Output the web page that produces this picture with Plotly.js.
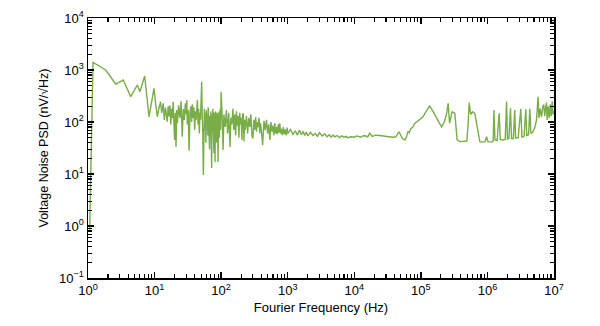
<!DOCTYPE html>
<html>
<head>
<meta charset="utf-8">
<script src="https://cdn.plot.ly/plotly-3.0.1.min.js"></script>
<style>html,body{margin:0;padding:0;background:#fff;}#chart{width:600px;height:326px;}</style>
</head>
<body>
<div id="chart"></div>
<script>
// Fourier frequency (Hz)
const freqLow = [1.06, 1.19, 1.5, 1.84, 2.61, 3.39, 4.38, 5.5, 6.04, 7.1, 8.24, 9.0, 9.8, 10.4, 11.0, 11.6, 12.3, 12.8, 13.5, 14.0, 14.6, 15.0, 15.5, 16.0, 16.5, 17.0, 17.5, 18.0, 18.5, 19.0, 19.5, 20.0, 20.5, 21.0, 21.5, 22.0, 23, 24, 25, 26, 27, 28, 29, 30, 30.5, 31, 32, 33, 34, 35, 36, 37, 38, 39, 40, 41, 42, 43, 44, 45, 46, 47, 48, 49, 50, 51, 52, 53, 54, 55, 56, 57, 58, 59, 60, 61, 62, 63, 64, 65, 66, 67, 68, 69, 70, 71, 72, 73, 74, 75, 76, 77, 78, 79, 80, 81, 82, 83, 84, 85, 86, 87, 88, 89, 90, 91, 92, 93, 94, 95, 96, 97, 98, 99];
const psdLow = [0.85, 1400, 1180, 1000, 538, 642, 307, 515, 383, 767, 126, 250, 444, 220, 126, 180, 246, 150, 229, 110, 190, 140, 101, 200, 130, 210, 90, 180, 120, 246, 110, 45, 150, 33, 170, 95, 210, 120, 250, 52, 180, 110, 230, 140, 265, 90, 170, 28, 150, 200, 100, 220, 120, 190, 70, 160, 110, 240, 265, 90, 180, 60, 150, 110, 200, 596, 130, 60, 9.6, 120, 180, 70, 150, 40, 170, 90, 140, 55, 190, 100, 150, 30, 130, 80, 160, 50, 13, 140, 90, 180, 60, 130, 25, 150, 100, 17, 160, 70, 140, 40, 120, 90, 150, 60, 17, 130, 80, 160, 50, 120, 100, 180, 70, 140];
const freqMid = [100, 104, 107, 110, 115, 120, 125, 130, 136, 140, 145, 150, 155, 160, 165, 170, 175, 180, 185, 190, 195, 200, 205, 210, 215, 220, 225, 230, 240, 250, 260, 270, 280, 290, 300, 310, 320, 330, 340, 350, 360, 370, 380, 390, 400, 420, 440, 460, 480, 500, 520, 540, 560, 580, 600, 620, 640, 660, 680, 700, 720, 740, 760, 780, 800, 830, 860, 890, 920, 950, 980, 1000, 1100, 1200, 1300, 1400, 1500, 1600, 1700, 1800, 1900, 2000, 2200, 2400, 2600, 2800, 3000, 3300, 3600, 3900, 4200, 4500, 4800, 5100, 5500, 6000, 6500, 7000, 7500, 8000, 9000, 10000];
const psdMid = [381, 110, 29, 140, 80, 170, 60, 150, 33, 120, 90, 180, 70, 140, 55, 160, 85, 130, 50, 150, 90, 120, 45, 140, 147, 42, 110, 70, 130, 60, 120, 80, 140, 55, 48, 110, 70, 125, 65, 100, 80, 120, 60, 95, 75, 36, 105, 70, 110, 60, 90, 45, 100, 65, 85, 55, 95, 60, 80, 58, 90, 62, 94, 60, 75, 56, 80, 58, 72, 55, 78, 60, 72, 58, 68, 56, 70, 57, 66, 55, 64, 54, 63, 55, 60, 53, 62, 54, 59, 52, 57, 51, 56, 52, 55, 50, 54, 51, 53, 50, 52, 51];
const freqHigh = [11000, 12500, 14000, 16000, 17000, 18500, 21000, 24000, 27000, 30000, 34000, 38000, 42000, 44000, 47200, 50000, 53000, 57500, 61000, 64000, 67000, 71000, 76000, 81000, 90000, 100000, 108000, 120000, 136000, 150000, 170000, 190000, 205000, 225000, 245000, 257000, 270000, 295000, 324000, 340000, 350000, 385000, 440000, 490000, 510000, 531000, 560000, 597000, 647000, 690000, 769000, 850000, 920000, 970000, 1020000, 1150000, 1220000, 1250000, 1300000, 1400000, 1470000, 1500000, 1560000, 1700000, 1850000, 1940000, 2000000, 2100000, 2220000, 2300000, 2450000, 2570000, 2650000, 2900000, 3170000, 3300000, 3550000, 3770000, 3900000, 4150000, 4330000, 4500000, 4800000, 5100000, 5460000, 5770000, 5950000, 6200000, 6500000, 6800000, 7030000, 7250000, 7500000, 7710000, 7900000, 8200000, 8500000, 8800000, 9100000, 9400000, 9700000, 10000000];
const psdHigh = [54, 51, 55, 52, 61, 53, 56, 55, 54, 53, 52, 51, 52, 58, 65, 55, 48, 45, 52, 66, 62, 75, 80, 94, 105, 120, 126, 160, 203, 165, 120, 95, 81, 100, 150, 229, 95, 157, 147, 70, 46, 42, 42, 43, 80, 235, 140, 157, 147, 90, 42, 41, 42, 52, 42, 41, 43, 170, 45, 44, 100, 147, 46, 45, 46, 247, 47, 48, 184, 48, 48, 170, 49, 50, 180, 51, 53, 176, 55, 57, 180, 60, 64, 75, 109, 305, 120, 180, 125, 200, 215, 130, 190, 235, 110, 200, 120, 220, 130, 250, 140, 160];

const xTickVals = [1, 10, 100, 1000, 10000, 100000, 1000000, 10000000];
const xTickText = ['10<sup>0</sup>', '10<sup>1</sup>', '10<sup>2</sup>', '10<sup>3</sup>', '10<sup>4</sup>', '10<sup>5</sup>', '10<sup>6</sup>', '10<sup>7</sup>'];
const yTickVals = [0.1, 1, 10, 100, 1000, 10000];
const yTickText = ['10<sup>\u22121</sup>', '10<sup>0</sup>', '10<sup>1</sup>', '10<sup>2</sup>', '10<sup>3</sup>', '10<sup>4</sup>'];

const freq = freqLow.concat(freqMid, freqHigh);
const psd = psdLow.concat(psdMid, psdHigh);

// minor tick positions (2..9 within each decade) for the log axes
function minorTicks(majors) {
  const out = [];
  for (let i = 0; i < majors.length - 1; i++) {
    for (let m = 2; m <= 9; m++) out.push(majors[i] * m);
  }
  return out;
}

const font = {family: 'Liberation Sans, Arial, sans-serif', color: '#000'};

const axisCommon = {
  type: 'log', showgrid: false, zeroline: false,
  showline: true, linecolor: '#000', linewidth: 1.5, mirror: 'ticks',
  ticks: 'inside', ticklen: 6, tickwidth: 1.3, tickcolor: '#000',
  tickmode: 'array',
  tickfont: Object.assign({size: 13}, font)
};

const layout = {
  width: 600, height: 326,
  margin: {l: 88, r: 46, t: 18, b: 48},
  paper_bgcolor: '#fff', plot_bgcolor: '#fff',
  showlegend: false,
  xaxis: Object.assign({}, axisCommon, {
    range: [0, 7], tickvals: xTickVals, ticktext: xTickText,
    minor: {tickmode: 'array', tickvals: minorTicks(xTickVals), ticks: 'inside', ticklen: 4, tickwidth: 1.1, tickcolor: '#000', showgrid: false},
    title: {text: 'Fourier Frequency (Hz)', font: Object.assign({size: 13}, font), standoff: 6}
  }),
  yaxis: Object.assign({}, axisCommon, {
    range: [-1, 4], tickvals: yTickVals, ticktext: yTickText,
    minor: {tickmode: 'array', tickvals: minorTicks(yTickVals), ticks: 'inside', ticklen: 4, tickwidth: 1.1, tickcolor: '#000', showgrid: false},
    title: {text: 'Voltage Noise PSD (nV/\u221AHz)', font: Object.assign({size: 12.5}, font), standoff: 7}
  })
};

Plotly.newPlot('chart', [{
  x: freq, y: psd, type: 'scatter', mode: 'lines',
  line: {color: '#78ad48', width: 1.4}
}], layout, {displayModeBar: false, staticPlot: true});
</script>
</body>
</html>
